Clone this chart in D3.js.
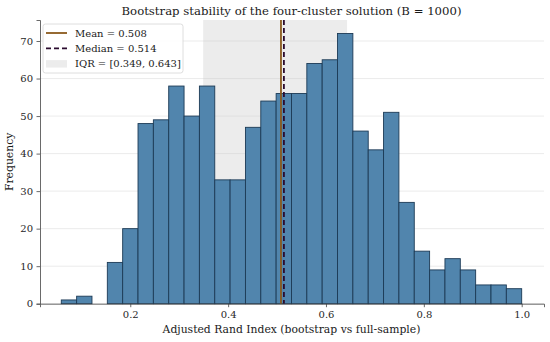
<!DOCTYPE html>
<html>
<head>
<meta charset="utf-8">
<script src="https://cdn.jsdelivr.net/npm/d3@7"></script>
<style>
  body { margin: 0; background: #fff; }
  svg { font-family: "DejaVu Serif", serif; }
</style>
</head>
<body>
<div id="chart"></div>
<script>
// histogram of bootstrap ARI values, 30 bins
var binStart = 0.0590;
var binEnd = 1.0;
var counts = [1, 2, 0, 11, 20, 48, 49, 58, 50, 58, 33, 33, 47, 54, 56,
              56, 64, 65, 72, 46, 41, 51, 27, 14, 9, 12, 9, 5, 5, 4];
var xTicks = [0.2, 0.4, 0.6, 0.8, 1.0];
var yTicks = [0, 10, 20, 30, 40, 50, 60, 70];
var meanVal = 0.508;
var medianVal = 0.514;
var iqr = [0.349, 0.643];

var width = 550, height = 342;
// plot box (note: "top" is taken by window.top, so use pTop etc.)
var pLeft = 40, pRight = 544, pTop = 20, pBottom = 303.7;

var binW = (binEnd - binStart) / counts.length;
var bins = counts.map(function(c, i) {
    return { x0: binStart + i * binW, x1: binStart + (i + 1) * binW, n: c };
});

var svg = d3.select("#chart").append("svg")
    .attr("width", width)
    .attr("height", height);

var x = d3.scaleLinear().domain([0.0155, 1.0456]).range([pLeft, pRight]);
var y = d3.scaleLinear().domain([0, 75.6]).range([pBottom, pTop]);

// grid
svg.append("g")
    .selectAll("line")
    .data(yTicks)
    .enter().append("line")
    .attr("x1", pLeft).attr("x2", pRight)
    .attr("y1", function(d) { return y(d); })
    .attr("y2", function(d) { return y(d); })
    .attr("stroke", "#e6e6e6")
    .attr("stroke-width", 0.8);

// IQR band
svg.append("rect")
    .attr("x", x(iqr[0]))
    .attr("y", pTop)
    .attr("width", x(iqr[1]) - x(iqr[0]))
    .attr("height", pBottom - pTop)
    .attr("fill", "#c8c8c8")
    .attr("fill-opacity", 0.35);

// bars
svg.append("g")
    .selectAll("rect")
    .data(bins.filter(function(d) { return d.n > 0; }))
    .enter().append("rect")
    .attr("x", function(d) { return x(d.x0); })
    .attr("y", function(d) { return y(d.n); })
    .attr("width", function(d) { return x(d.x1) - x(d.x0); })
    .attr("height", function(d) { return y(0) - y(d.n); })
    .attr("fill", "#5185ad")
    .attr("stroke", "#1c3a55")
    .attr("stroke-width", 0.9);

// mean / median
svg.append("line")
    .attr("x1", x(meanVal)).attr("x2", x(meanVal))
    .attr("y1", pTop).attr("y2", pBottom)
    .attr("stroke", "#8b5a1c")
    .attr("stroke-width", 1.8);
svg.append("line")
    .attr("x1", x(medianVal)).attr("x2", x(medianVal))
    .attr("y1", pTop).attr("y2", pBottom)
    .attr("stroke", "#2a0b2e")
    .attr("stroke-width", 1.8)
    .attr("stroke-dasharray", "5,3");

// axes
var xAxis = svg.append("g")
    .attr("transform", "translate(0," + pBottom + ")")
    .call(d3.axisBottom(x).tickValues(xTicks).tickFormat(d3.format(".1f")).tickSize(3.5).tickPadding(3.5));
var yAxis = svg.append("g")
    .attr("transform", "translate(" + pLeft + ",0)")
    .call(d3.axisLeft(y).tickValues(yTicks).tickSize(3.5).tickPadding(3.5));

[xAxis, yAxis].forEach(function(ax) {
    ax.select(".domain").attr("stroke", "#444").attr("stroke-width", 0.8);
    ax.selectAll(".tick line").attr("stroke", "#444").attr("stroke-width", 0.8);
    ax.selectAll(".tick text")
        .attr("fill", "#262626")
        .style("font-family", "DejaVu Serif")
        .style("font-size", "10px");
});

// labels
svg.append("text")
    .text("Bootstrap stability of the four-cluster solution (B = 1000)")
    .attr("x", 291.5)
    .attr("y", 15)
    .attr("text-anchor", "middle")
    .attr("fill", "#1a1a1a")
    .style("font-size", "11.7px");

svg.append("text")
    .text("Adjusted Rand Index (bootstrap vs full-sample)")
    .attr("x", 291.5)
    .attr("y", 333)
    .attr("text-anchor", "middle")
    .attr("fill", "#1a1a1a")
    .style("font-size", "10.8px");

svg.append("text")
    .text("Frequency")
    .attr("transform", "translate(13," + (pTop + pBottom) / 2 + ") rotate(-90)")
    .attr("text-anchor", "middle")
    .attr("fill", "#1a1a1a")
    .style("font-size", "10.8px");

// legend
var lg = svg.append("g").attr("transform", "translate(43,24)");
lg.append("rect")
    .attr("width", 140).attr("height", 49)
    .attr("rx", 2.5)
    .attr("fill", "#fff").attr("fill-opacity", 0.85)
    .attr("stroke", "#d5d5d5").attr("stroke-width", 0.8);

var items = [
    { label: "Mean = " + meanVal.toFixed(3), kind: "mean" },
    { label: "Median = " + medianVal.toFixed(3), kind: "median" },
    { label: "IQR = [" + iqr[0].toFixed(3) + ", " + iqr[1].toFixed(3) + "]", kind: "iqr" }
];
items.forEach(function(it, i) {
    var yy = 9 + i * 15.3;
    if (it.kind == "iqr") {
        lg.append("rect")
            .attr("x", 3).attr("y", yy - 3.5)
            .attr("width", 21).attr("height", 7.5)
            .attr("fill", "#c8c8c8").attr("fill-opacity", 0.35);
    } else {
        lg.append("line")
            .attr("x1", 3).attr("x2", 24)
            .attr("y1", yy).attr("y2", yy)
            .attr("stroke", it.kind == "mean" ? "#8b5a1c" : "#2a0b2e")
            .attr("stroke-width", 1.8)
            .attr("stroke-dasharray", it.kind == "median" ? "5,3" : null);
    }
    lg.append("text")
        .text(it.label)
        .attr("x", 32)
        .attr("y", yy + 3.8)
        .attr("fill", "#1a1a1a")
        .style("font-size", "10px");
});
</script>
</body>
</html>
